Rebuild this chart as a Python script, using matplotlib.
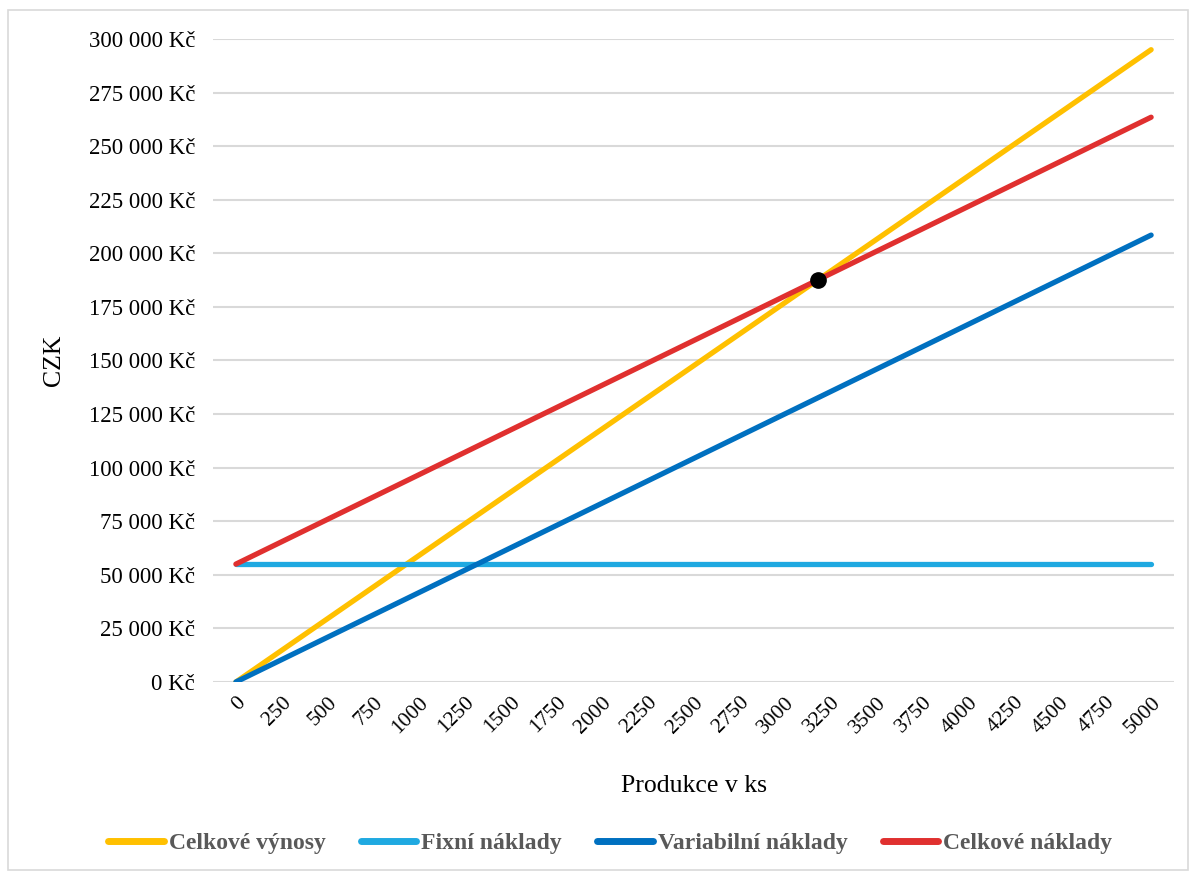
import matplotlib
matplotlib.use("Agg")
import matplotlib.pyplot as plt
from matplotlib.patches import Rectangle
from matplotlib.ticker import FuncFormatter

# production volume (pcs)
units = [0, 250, 500, 750, 1000, 1250, 1500, 1750, 2000, 2250, 2500,
         2750, 3000, 3250, 3500, 3750, 4000, 4250, 4500, 4750, 5000]

revenue = [0, 14750, 29500, 44250, 59000, 73750, 88500, 103250, 118000,
           132750, 147500, 162250, 177000, 191750, 206500, 221250, 236000,
           250750, 265500, 280250, 295000]
fixed_costs = [55000] * 21
variable_costs = [0, 10425, 20850, 31275, 41700, 52125, 62550, 72975, 83400,
                  93825, 104250, 114675, 125100, 135525, 145950, 156375,
                  166800, 177225, 187650, 198075, 208500]
total_costs = [55000, 65425, 75850, 86275, 96700, 107125, 117550, 127975,
               138400, 148825, 159250, 169675, 180100, 190525, 200950,
               211375, 221800, 232225, 242650, 253075, 263500]

series_names = ["Celkové výnosy", "Fixní náklady", "Variabilní náklady", "Celkové náklady"]
series_colors = ["#FFC000", "#1FA9E1", "#0070C0", "#E0302F"]

# break-even point
bep_units = 3179
bep_value = 187572

plt.rcParams["font.family"] = ["Liberation Serif", "DejaVu Serif"]

fig = plt.figure(figsize=(11.92, 8.74), dpi=100)
fig.patches.append(Rectangle((8 / 1192, 4 / 874), 1180 / 1192, 860 / 874,
                             transform=fig.transFigure, fill=False,
                             edgecolor="#D9D9D9", linewidth=1.2))
ax = fig.add_axes([0.1787, 0.2197, 0.8062, 0.7357])

data = [revenue, fixed_costs, variable_costs, total_costs]
handles = []
for name, color, values in zip(series_names, series_colors, data):
    h, = ax.plot(units, values, color=color, linewidth=3.8,
                 solid_capstyle="round", label=name, zorder=3)
    handles.append(h)

ax.plot([bep_units], [bep_value], "o", color="black", markersize=11, zorder=5)

ax.set_xlim(-125, 5125)
ax.set_ylim(0, 300000)
ax.set_xticks(units)
ax.set_xticklabels([str(u) for u in units], rotation=45, fontsize=15.5,
                   ha="right", va="top", rotation_mode="anchor")
ax.set_yticks(range(0, 300001, 25000))
ax.yaxis.set_major_formatter(FuncFormatter(lambda v, p: f"{int(v):,} Kč".replace(",", " ")))
ax.tick_params(axis="y", labelsize=16.5, length=0, pad=13)
ax.tick_params(axis="x", length=0, pad=8)

ax.grid(axis="y", color="#D9D9D9", linewidth=1.5, zorder=0)
for s in ax.spines.values():
    s.set_visible(False)

ax.set_xlabel("Produkce v ks", fontsize=18.5, labelpad=27)
ax.set_ylabel("CZK", fontsize=18.5, labelpad=17)

leg = fig.legend(handles=handles, loc="center", bbox_to_anchor=(0.512, 0.035),
                 ncol=4, frameon=False, handlelength=2.35, handletextpad=0.2,
                 columnspacing=1.5,
                 prop={"family": "Liberation Serif", "weight": "bold", "size": 17})
for t in leg.get_texts():
    t.set_color("#595959")
for line in leg.get_lines():
    line.set_linewidth(5)

fig.savefig("out.png", dpi=100)
